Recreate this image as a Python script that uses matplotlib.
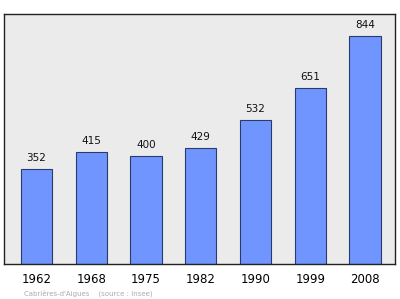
import matplotlib
matplotlib.use("Agg")
import matplotlib.pyplot as plt

years = ["1962", "1968", "1975", "1982", "1990", "1999", "2008"]
population = [352, 415, 400, 429, 532, 651, 844]
footer = "Cabrières-d'Aigues    (source : Insee)"

fig = plt.figure(figsize=(4.0, 2.99), dpi=100)
ax = fig.add_axes([4/400, 1 - 263.7/299, (395-4)/400, (263.7-14)/299])
ax.set_facecolor("#ebebeb")
x = list(range(len(years)))
bars = ax.bar(x, population, width=0.57, color="#7095ff", edgecolor="#2a3a6a", linewidth=0.8, zorder=2)
for xi, v in zip(x, population):
    ax.text(xi, v + 22, str(v), ha="center", va="bottom", fontsize=7.5, color="#111111")
ax.set_xlim(-0.594, 6.548)
ax.set_ylim(0, 926)
ax.set_yticks([])
ax.set_xticks(x)
ax.set_xticklabels(years, fontsize=8.5)
ax.tick_params(axis="x", length=0, pad=7)
for s in ax.spines.values():
    s.set_color("#222222")
    s.set_linewidth(1.0)
fig.text(24/400, 1 - 293/299, footer, fontsize=5, color="#aaaaaa", ha="left", va="center")
fig.savefig("out.png", dpi=100)
